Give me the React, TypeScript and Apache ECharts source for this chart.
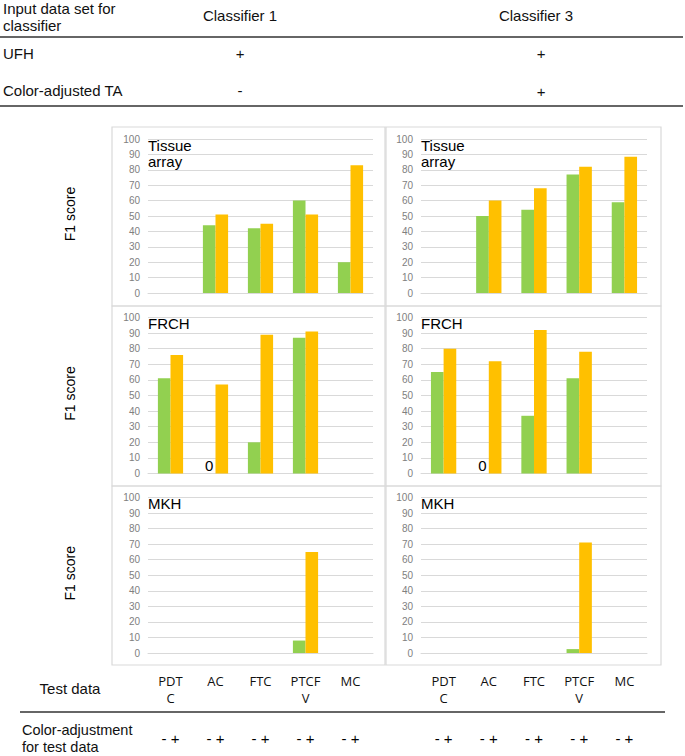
import React, { useEffect, useRef } from "react";
import * as echarts from "echarts";

const tickLabels = ["PDT\nC", "AC", "FTC", "PTCF\nV", "MC"];
const adjustLabels = ["- +", "- +", "- +", "- +", "- +"];

// Classifier 1
const c1TissueMinus = [null, 44, 42, 60, 20];
const c1TissuePlus = [null, 51, 45, 51, 83];
const c1FrchMinus = [61, 0, 20, 87, null];
const c1FrchPlus = [76, 57, 89, 91, null];
const c1MkhMinus = [null, null, null, 8, null];
const c1MkhPlus = [null, null, null, 65, null];
// Classifier 3
const c3TissueMinus = [null, 50, 54, 77, 59];
const c3TissuePlus = [null, 60, 68, 82, 88.5];
const c3FrchMinus = [65, 0, 37, 61, null];
const c3FrchPlus = [80, 72, 92, 78, null];
const c3MkhMinus = [null, null, null, 2.5, null];
const c3MkhPlus = [null, null, null, 71, null];

const panelNames = ["Tissue\narray", "FRCH", "MKH"];

const GREEN = "#92d050";
const ORANGE = "#ffc000";
const GRID_LINE = "#d9d9d9";

export default function App() {
  const ref = useRef<HTMLDivElement>(null);
  useEffect(() => {
    document.body.style.margin = "0";
    const chart = echarts.init(ref.current!, null, { renderer: "svg" });

    const cols = [
      { gridLeft: 148, gridWidth: 225, boxX: 112, boxW: 273 },
      { gridLeft: 421, gridWidth: 226, boxX: 386, boxW: 275 },
    ];
    const rows = [
      { top: 139, height: 154, boxY: 127, boxH: 179 },
      { top: 317.5, height: 156, boxY: 306, boxH: 180 },
      { top: 497.5, height: 155.5, boxY: 486, boxH: 179 },
    ];
    const panelData = [
      [c1TissueMinus, c1TissuePlus],
      [c3TissueMinus, c3TissuePlus],
      [c1FrchMinus, c1FrchPlus],
      [c3FrchMinus, c3FrchPlus],
      [c1MkhMinus, c1MkhPlus],
      [c3MkhMinus, c3MkhPlus],
    ];

    const grids: any[] = [];
    const xAxes: any[] = [];
    const extraX: any[] = [];
    const yAxes: any[] = [];
    const series: any[] = [];
    const graphics: any[] = [];

    rows.forEach((r, ri) => {
      cols.forEach((c, ci) => {
        const gi = ri * 2 + ci;
        grids.push({
          left: c.gridLeft,
          width: c.gridWidth,
          top: r.top,
          height: r.height,
          containLabel: false,
        });
        const isBottom = ri === 2;
        xAxes.push({
          type: "category",
          gridIndex: gi,
          data: tickLabels,
          axisLine: { show: true, lineStyle: { color: GRID_LINE } },
          axisTick: { show: false },
          axisLabel: {
            show: isBottom,
            margin: 19,
            fontSize: 13,
            lineHeight: 17,
            color: "#111",
            fontFamily: "Open Sans",
            interval: 0,
          },
        });
        yAxes.push({
          type: "value",
          gridIndex: gi,
          min: 0,
          max: 100,
          interval: 10,
          axisLine: { show: false },
          axisTick: { show: false },
          axisLabel: {
            fontSize: 10,
            color: "#808080",
            margin: 8,
            fontFamily: "Liberation Sans",
          },
          splitLine: { show: true, lineStyle: { color: GRID_LINE, width: 1 } },
        });
        const [minus, plus] = panelData[gi];
        const mkData = (arr: (number | null)[]) =>
          arr.map((v) =>
            v === 0
              ? {
                  value: 0,
                  label: {
                    show: true,
                    position: "top",
                    distance: 1,
                    formatter: "0",
                    fontSize: 15,
                    color: "#000",
                    fontFamily: "Liberation Sans",
                  },
                }
              : v
          );
        series.push({
          type: "bar",
          xAxisIndex: gi,
          yAxisIndex: gi,
          data: mkData(minus),
          barWidth: "28%",
          barGap: "0%",
          itemStyle: { color: GREEN },
        });
        series.push({
          type: "bar",
          xAxisIndex: gi,
          yAxisIndex: gi,
          data: mkData(plus),
          barWidth: "28%",
          barGap: "0%",
          itemStyle: { color: ORANGE },
        });
        graphics.push({
          type: "rect",
          shape: { x: c.boxX, y: r.boxY, width: c.boxW, height: r.boxH },
          style: { fill: "none", stroke: GRID_LINE, lineWidth: 1.2 },
          z: 1,
        });
        graphics.push({
          type: "text",
          x: c.gridLeft,
          y: r.top - 2,
          style: {
            text: panelNames[ri],
            fontSize: 15,
            lineHeight: 16.5,
            fill: "#000",
            fontFamily: "Liberation Sans",
            align: "left",
            verticalAlign: "top",
          },
          z: 10,
        });
        if (ci === 0) {
          graphics.push({
            type: "text",
            x: 70,
            y: r.top + r.height / 2 - 2,
            rotation: Math.PI / 2,
            style: {
              text: "F1 score",
              fontSize: 14,
              fill: "#000",
              fontFamily: "Liberation Sans",
              align: "center",
              verticalAlign: "middle",
            },
          });
        }
        if (isBottom) {
          extraX.push({
            type: "category",
            gridIndex: gi,
            data: adjustLabels,
            position: "bottom",
            offset: 76,
            axisLine: { show: false },
            axisTick: { show: false },
            axisLabel: {
              show: true,
              margin: 2,
              fontSize: 15,
              color: "#000",
              fontFamily: "Liberation Sans",
              interval: 0,
            },
          });
        }
      });
    });

    const tableText = (text: string, x: number, y: number, align = "left") => ({
      type: "text",
      x,
      y,
      style: {
        text,
        fontSize: 15,
        fill: "#111",
        fontFamily: "Liberation Sans",
        align,
        verticalAlign: "middle",
      },
    });
    const hLine = (x1: number, x2: number, y: number) => ({
      type: "line",
      shape: { x1, y1: y, x2, y2: y },
      style: { stroke: "#333", lineWidth: 1.4 },
    });

    graphics.push(
      {
        type: "text",
        x: 3,
        y: 0,
        style: {
          text: "Input data set for\nclassifier",
          fontSize: 15,
          lineHeight: 17,
          fill: "#111",
          fontFamily: "Liberation Sans",
          align: "left",
          verticalAlign: "top",
        },
      },
      tableText("Classifier 1", 240, 15, "center"),
      tableText("Classifier 3", 536, 15, "center"),
      hLine(0, 683, 37),
      tableText("UFH", 3, 53),
      tableText("+", 240, 53, "center"),
      tableText("+", 541, 53, "center"),
      tableText("Color-adjusted TA", 3, 90),
      tableText("-", 240, 90, "center"),
      tableText("+", 541, 91, "center"),
      hLine(0, 683, 106),
      tableText("Test data", 70, 688, "center"),
      hLine(20, 665, 712),
      {
        type: "text",
        x: 22,
        y: 722,
        style: {
          text: "Color-adjustment\nfor test data",
          fontSize: 14.5,
          lineHeight: 16.5,
          fill: "#111",
          fontFamily: "Liberation Sans",
          align: "left",
          verticalAlign: "top",
        },
      }
    );

    chart.setOption({
      animation: false,
      grid: grids,
      xAxis: xAxes.concat(extraX),
      yAxis: yAxes,
      series,
      graphic: graphics,
    });
    return () => chart.dispose();
  }, []);
  return <div ref={ref} style={{ width: 685, height: 756 }} />;
}
